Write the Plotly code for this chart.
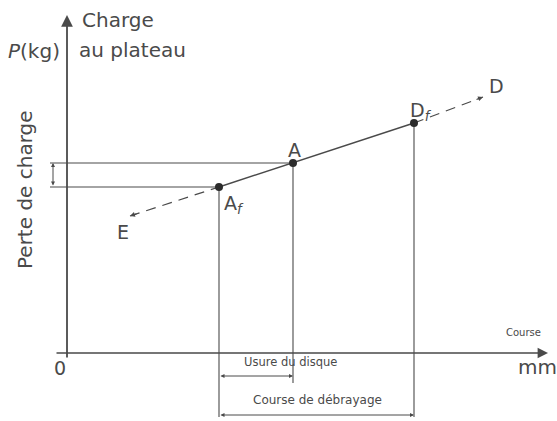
import plotly.graph_objects as go

# points of the load curve (course in mm, charge in kg, arbitrary units)
point_names = ["E", "A_f", "A", "D_f", "D"]
course = [6.3, 15.2, 22.6, 34.7, 41.6]
charge = [13.8, 16.7, 19.1, 23.1, 25.7]

ink = "#4a4a4a"
font = "DejaVu Sans, Verdana, sans-serif"

pts = dict(zip(point_names, zip(course, charge)))
E, Af, A, Df, D = (pts[n] for n in point_names)

fig = go.Figure()

# dashed extensions
fig.add_trace(go.Scatter(x=[E[0], Af[0]], y=[E[1], Af[1]], mode="lines",
                         line=dict(color=ink, width=1.2, dash="10px,7px")))
fig.add_trace(go.Scatter(x=[Df[0], D[0]], y=[Df[1], D[1]], mode="lines",
                         line=dict(color=ink, width=1.2, dash="10px,7px")))
# solid working segment
fig.add_trace(go.Scatter(x=[Af[0], A[0], Df[0]], y=[Af[1], A[1], Df[1]], mode="lines",
                         line=dict(color=ink, width=1.4)))

# guide lines
x_left = -1.7
fig.add_trace(go.Scatter(x=[x_left, A[0], None, x_left, Af[0]],
                         y=[A[1], A[1], None, Af[1], Af[1]], mode="lines",
                         line=dict(color=ink, width=1.1)))
bottom_long = -6.3
bottom_short = -2.9
fig.add_trace(go.Scatter(x=[Af[0], Af[0], None, A[0], A[0], None, Df[0], Df[0]],
                         y=[Af[1], bottom_long, None, A[1], bottom_short, None, Df[1], bottom_long],
                         mode="lines", line=dict(color=ink, width=1.1)))

# marked points
fig.add_trace(go.Scatter(x=[Af[0], A[0], Df[0]], y=[Af[1], A[1], Df[1]], mode="markers",
                         marker=dict(color="#2b2b2b", size=8)))

ann = []

def arrow(x0, y0, x1, y1, head=2, size=1.0, width=1.4, side="end"):
    ann.append(dict(x=x1, y=y1, ax=x0, ay=y0, xref="x", yref="y", axref="x", ayref="y",
                    text="", showarrow=True, arrowhead=head, arrowsize=size,
                    arrowwidth=width, arrowcolor=ink, arrowside=side,
                    startarrowhead=head, startarrowsize=size))

# axes
arrow(0, -0.5, 0, 33.9, head=2, size=1.3, width=1.8)
arrow(-1.2, 0.1, 48.1, 0.1, head=2, size=1.3, width=1.6)

# small heads at dashed ends
arrow(E[0] + 0.8, E[1] + 0.26, E[0], E[1], head=2, size=0.9, width=1.1)
arrow(D[0] - 0.8, D[1] - 0.3, D[0], D[1], head=2, size=0.9, width=1.1)

# dimension arrows
arrow(-1.4, Af[1], -1.4, A[1], head=2, size=0.8, width=1.0, side="end+start")
arrow(Af[0], -2.2, A[0], -2.2, head=2, size=0.8, width=1.0, side="end+start")
arrow(Af[0], -6.1, Df[0], -6.1, head=2, size=0.8, width=1.0, side="end+start")

def label(x, y, text, size, **kw):
    d = dict(x=x, y=y, xref="x", yref="y", text=text, showarrow=False,
             font=dict(family=font, size=size, color=ink))
    d.update(kw)
    ann.append(d)

label(5.6, 12.2, "E", 19)
label(15.5, 15.0, "A<sub><i>f</i></sub>", 19, xanchor="left")
label(22.7, 20.4, "A", 19)
label(34.1, 24.3, "D<sub><i>f</i></sub>", 19, xanchor="left")
label(42.9, 26.8, "D", 19)
label(-0.7, -1.4, "0", 19)

label(1.3, 33.4, "Charge", 20, xanchor="left")
label(1.0, 30.4, "au plateau", 20, xanchor="left")
label(-0.5, 30.3, "<i>P</i>(kg)", 20, xanchor="right")
label(-4.2, 16.4, "Perte de charge", 20, textangle=-90)

label(45.6, 2.2, "Course", 10)
label(47.0, -1.3, "mm", 20)
label(22.3, -0.8, "Usure du disque", 11.5)
label(25.0, -4.6, "Course de débrayage", 12)

fig.update_layout(
    width=557, height=421,
    margin=dict(l=0, r=0, t=0, b=0),
    paper_bgcolor="white", plot_bgcolor="white",
    showlegend=False,
    annotations=ann,
    xaxis=dict(range=[-6.7, 49.0], visible=False, fixedrange=True),
    yaxis=dict(range=[-6.7, 35.4], visible=False, fixedrange=True),
)

fig.write_html("out.html", config={"displayModeBar": False},
               post_script="document.body.style.margin='0';document.body.style.overflow='hidden';")
